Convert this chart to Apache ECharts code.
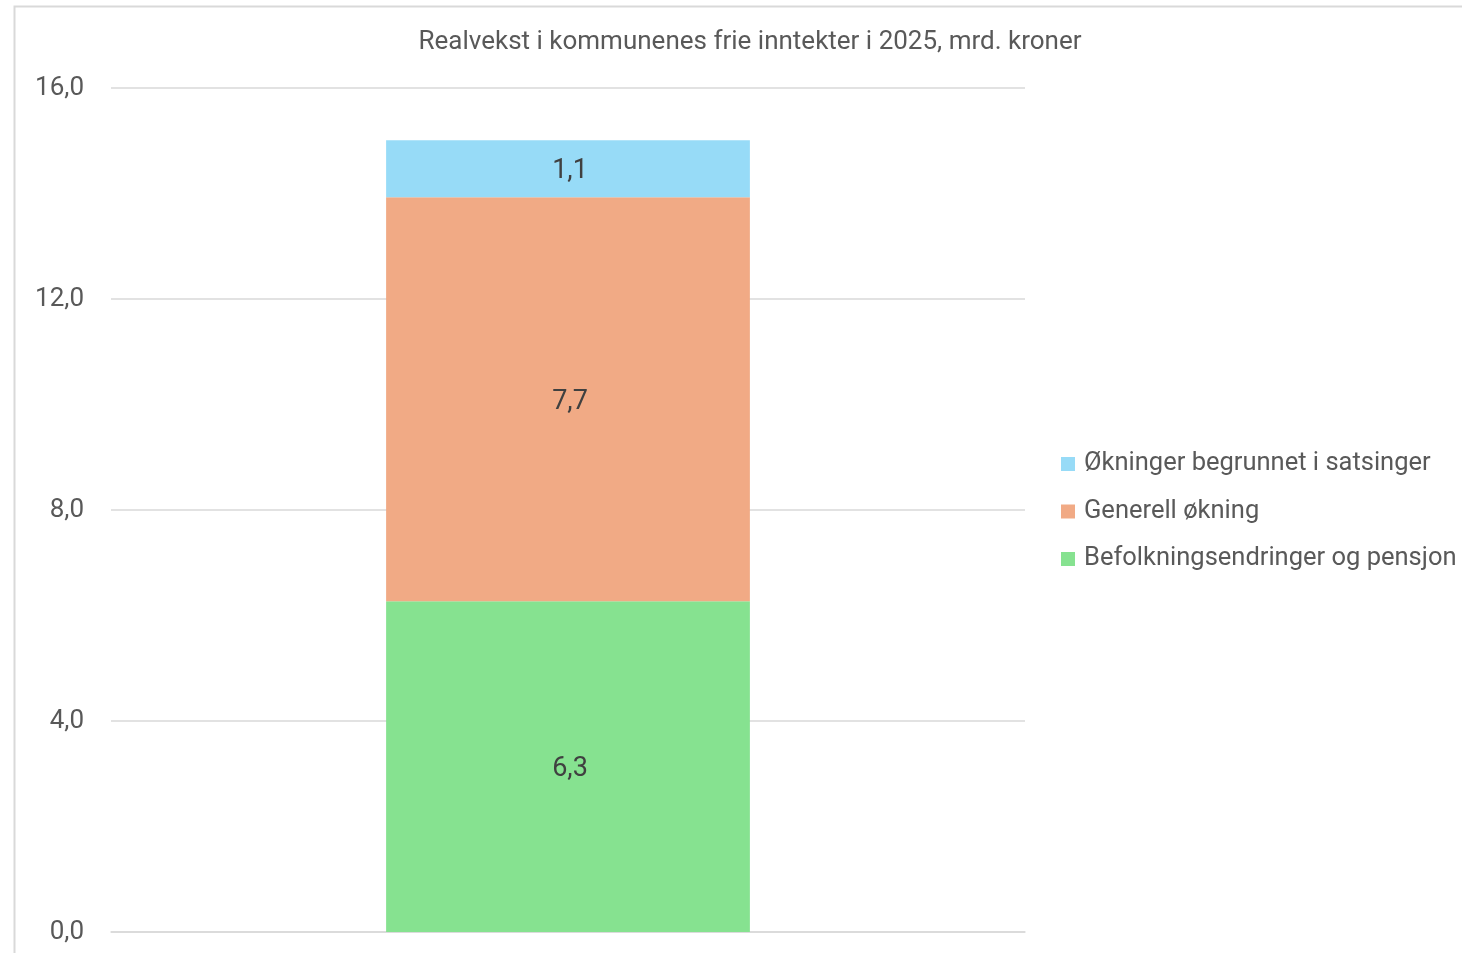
<!DOCTYPE html>
<html><head><meta charset="utf-8">
<script src="https://cdn.jsdelivr.net/npm/echarts@6/dist/echarts.min.js"></script>
<style>html,body{margin:0;padding:0;background:#fff}#c{width:1462px;height:953px}</style>
</head><body><div id="c"></div>
<script>
var categories = ['2025'];
var seriesNames = ['Befolkningsendringer og pensjon', 'Generell økning', 'Økninger begrunnet i satsinger'];
var befolkning = [6.27];
var generell = [7.66];
var satsinger = [1.08];
var yTicks = [0, 4, 8, 12, 16];

var colors = ['#86e290', '#f1aa85', '#97dbf7'];
var FONT = 'Roboto';
var chart = echarts.init(document.getElementById('c'));
function mk(name, data, color) {
  return {
    name: name, type: 'bar', stack: 'total', data: data, barWidth: '39.8%',
    itemStyle: { color: color },
    label: { show: true, position: 'inside', color: '#404040', fontSize: 27, fontFamily: FONT, offset: [2, 3],
      formatter: function (p) { return p.value.toFixed(1).replace('.', ','); } }
  };
}
chart.setOption({
  animation: false,
  graphic: [{ type: 'rect', shape: { x: 14.5, y: 6.5, width: 1500, height: 1000 },
    style: { fill: 'none', stroke: '#d9d9d9', lineWidth: 2 }, silent: true }],
  title: { text: 'Realvekst i kommunenes frie inntekter i 2025, mrd. kroner', left: 745, textAlign: 'center', top: 24,
    textStyle: { color: '#595959', fontSize: 26, fontWeight: 'normal', fontFamily: FONT } },
  legend: {
    orient: 'vertical', left: 1056, top: 446, itemWidth: 14, itemHeight: 14, itemGap: 21.5, icon: 'rect',
    data: [seriesNames[2], seriesNames[1], seriesNames[0]],
    textStyle: { color: '#595959', fontSize: 25.5, lineHeight: 26, fontFamily: FONT, padding: [0, 0, 0, 4] }
  },
  grid: { left: 111, right: 437, top: 88, bottom: 21, containLabel: false },
  xAxis: { type: 'category', data: categories, axisLine: { show: true, lineStyle: { color: '#d9d9d9', width: 1.5 } },
    axisTick: { show: false }, axisLabel: { show: false } },
  yAxis: { type: 'value', min: yTicks[0], max: yTicks[yTicks.length - 1], interval: 4,
    axisLine: { show: false }, axisTick: { show: false },
    splitLine: { lineStyle: { color: '#d9d9d9', width: 1.5 } },
    axisLabel: { color: '#595959', fontSize: 26, fontFamily: FONT, margin: 27,
      formatter: function (v) { return v.toFixed(1).replace('.', ','); } } },
  series: [mk(seriesNames[0], befolkning, colors[0]), mk(seriesNames[1], generell, colors[1]), mk(seriesNames[2], satsinger, colors[2])]
});
</script></body></html>
